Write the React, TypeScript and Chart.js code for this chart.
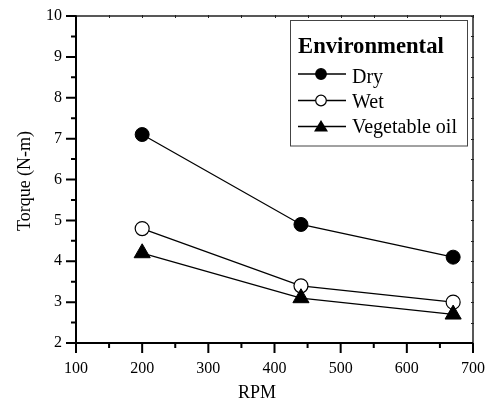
import React, { useEffect, useRef } from 'react';
import { Chart, registerables } from 'chart.js';

Chart.register(...registerables);

// ---- data ----
const rpm = [200, 440, 670];
const dry = [7.1, 4.9, 4.1];
const wet = [4.8, 3.4, 3.0];
const vegetableOil = [4.2, 3.1, 2.7];
const seriesNames = ['Dry', 'Wet', 'Vegetable oil'];
const legendTitle = 'Environmental';
const xTitle = 'RPM';
const yTitle = 'Torque (N-m)';
const xRange = [100, 700];
const yRange = [2, 10];
const xSteps = [100, 50]; // major, minor
const ySteps = [1, 0.5];

const FONT = "'Liberation Serif', 'Times New Roman', serif";

const framePlugin = {
  id: 'frame',
  afterDraw(chart: any) {
    const ctx = chart.ctx as CanvasRenderingContext2D;
    const { left, right, top, bottom } = chart.chartArea;
    const xs = chart.scales.x;
    const ys = chart.scales.y;
    ctx.save();
    ctx.lineCap = 'butt';

    // top & right axes (thinner)
    ctx.lineWidth = 1.5;
    ctx.strokeStyle = '#222';
    ctx.beginPath();
    ctx.moveTo(left, top);
    ctx.lineTo(right, top);
    ctx.moveTo(right, top);
    ctx.lineTo(right, bottom);
    ctx.stroke();

    // mirror ticks (tiny, inward)
    ctx.lineWidth = 1;
    ctx.beginPath();
    for (let v = xRange[0]; v <= xRange[1] + 1e-9; v += xSteps[1]) {
      const px = Math.round(xs.getPixelForValue(v)) + 0.5;
      ctx.moveTo(px, top - 1);
      ctx.lineTo(px, top + 2);
    }
    for (let v = yRange[0]; v <= yRange[1] + 1e-9; v += ySteps[1]) {
      const py = Math.round(ys.getPixelForValue(v)) + 0.5;
      ctx.moveTo(right - 2, py);
      ctx.lineTo(right + 1, py);
    }
    ctx.stroke();

    // left & bottom axes (thick)
    ctx.strokeStyle = '#000';
    ctx.lineWidth = 2;
    ctx.beginPath();
    ctx.moveTo(left, top);
    ctx.lineTo(left, bottom + 1);
    ctx.moveTo(left - 1, bottom);
    ctx.lineTo(right, bottom);
    ctx.stroke();

    // outward ticks
    ctx.beginPath();
    for (let v = xRange[0]; v <= xRange[1] + 1e-9; v += xSteps[1]) {
      const px = xs.getPixelForValue(v);
      const major = Math.abs(v / xSteps[0] - Math.round(v / xSteps[0])) < 1e-6;
      ctx.moveTo(px, bottom);
      ctx.lineTo(px, bottom + (major ? 10 : 5));
    }
    for (let v = yRange[0]; v <= yRange[1] + 1e-9; v += ySteps[1]) {
      const py = ys.getPixelForValue(v);
      const major = Math.abs(v / ySteps[0] - Math.round(v / ySteps[0])) < 1e-6;
      ctx.moveTo(left, py);
      ctx.lineTo(left - (major ? 10 : 5), py);
    }
    ctx.stroke();

    // axis titles
    ctx.fillStyle = '#000';
    ctx.font = `18px ${FONT}`;
    ctx.textAlign = 'center';
    ctx.textBaseline = 'alphabetic';
    ctx.fillText(xTitle, 257, 397.5);
    ctx.save();
    ctx.translate(29.5, 181);
    ctx.rotate(-Math.PI / 2);
    ctx.fillText(yTitle, 0, 0);
    ctx.restore();

    // legend
    const bx = 290.5, by = 20.5, bw = 177, bh = 125.5;
    ctx.fillStyle = '#fff';
    ctx.fillRect(bx, by, bw, bh);
    ctx.strokeStyle = '#444';
    ctx.lineWidth = 1;
    ctx.strokeRect(bx, by, bw, bh);

    ctx.fillStyle = '#000';
    ctx.textAlign = 'left';
    ctx.font = `bold 22.7px ${FONT}`;
    ctx.fillText(legendTitle, 298, 53);

    const lineYs = [74, 100.5, 126.5];
    const baseYs = [82.5, 108, 132.5];
    ctx.font = `20px ${FONT}`;
    seriesNames.forEach((name, i) => {
      const ly = lineYs[i];
      ctx.strokeStyle = '#000';
      ctx.lineWidth = 1.3;
      ctx.beginPath();
      ctx.moveTo(298, ly);
      ctx.lineTo(346, ly);
      ctx.stroke();
      const mx = 321;
      ctx.beginPath();
      if (i === 2) {
        ctx.moveTo(mx, ly - 6.5);
        ctx.lineTo(mx + 7, ly + 5);
        ctx.lineTo(mx - 7, ly + 5);
        ctx.closePath();
        ctx.fillStyle = '#000';
        ctx.fill();
      } else {
        ctx.arc(mx, ly, 5.3, 0, Math.PI * 2);
        ctx.fillStyle = i === 0 ? '#000' : '#fff';
        ctx.fill();
        ctx.lineWidth = 1.2;
        ctx.stroke();
      }
      ctx.fillStyle = '#000';
      ctx.fillText(name, 352, baseYs[i]);
    });

    ctx.restore();
  },
};

export default function App() {
  const ref = useRef<HTMLCanvasElement | null>(null);

  useEffect(() => {
    if (!ref.current) return;
    const mk = (vals: number[]) => rpm.map((x, i) => ({ x, y: vals[i] }));
    const chart = new Chart(ref.current, {
      type: 'line',
      data: {
        datasets: [
          {
            label: seriesNames[0],
            data: mk(dry),
            borderColor: '#000',
            borderWidth: 1.3,
            pointStyle: 'circle',
            pointRadius: 7,
            pointBackgroundColor: '#000',
            pointBorderColor: '#000',
            pointBorderWidth: 1,
            order: 2,
          },
          {
            label: seriesNames[1],
            data: mk(wet),
            borderColor: '#000',
            borderWidth: 1.3,
            pointStyle: 'circle',
            pointRadius: 7,
            pointBackgroundColor: '#fff',
            pointBorderColor: '#000',
            pointBorderWidth: 1.2,
            order: 1,
          },
          {
            label: seriesNames[2],
            data: mk(vegetableOil),
            borderColor: '#000',
            borderWidth: 1.3,
            pointStyle: 'triangle',
            pointRadius: 9.3,
            pointBackgroundColor: '#000',
            pointBorderColor: '#000',
            pointBorderWidth: 1,
            order: 0,
          },
        ],
      },
      options: {
        animation: false,
        responsive: false,
        maintainAspectRatio: false,
        events: [],
        layout: { padding: { top: 16, right: 17, left: 0, bottom: 0 } },
        plugins: {
          legend: { display: false },
          tooltip: { enabled: false },
        },
        scales: {
          x: {
            type: 'linear',
            min: xRange[0],
            max: xRange[1],
            grid: { display: false, drawTicks: false },
            border: { display: false },
            ticks: {
              stepSize: xSteps[0],
              color: '#000',
              font: { family: FONT, size: 16 },
              padding: 16,
              maxRotation: 0,
            },
            afterFit: (s: any) => {
              s.height = 57;
              s.paddingLeft = 0;
              s.paddingRight = 0;
            },
          },
          y: {
            type: 'linear',
            min: yRange[0],
            max: yRange[1],
            grid: { display: false, drawTicks: false },
            border: { display: false },
            ticks: {
              stepSize: ySteps[0],
              color: '#000',
              font: { family: FONT, size: 16 },
              padding: 14,
            },
            afterFit: (s: any) => {
              s.width = 76;
              s.paddingTop = 0;
              s.paddingBottom = 0;
            },
          },
        },
      },
      plugins: [framePlugin],
    });
    return () => chart.destroy();
  }, []);

  return (
    <div style={{ position: 'absolute', left: 0, top: 0, width: 490, height: 400, background: '#fff' }}>
      <canvas ref={ref} width={490} height={400} style={{ width: 490, height: 400, display: 'block' }} />
    </div>
  );
}
